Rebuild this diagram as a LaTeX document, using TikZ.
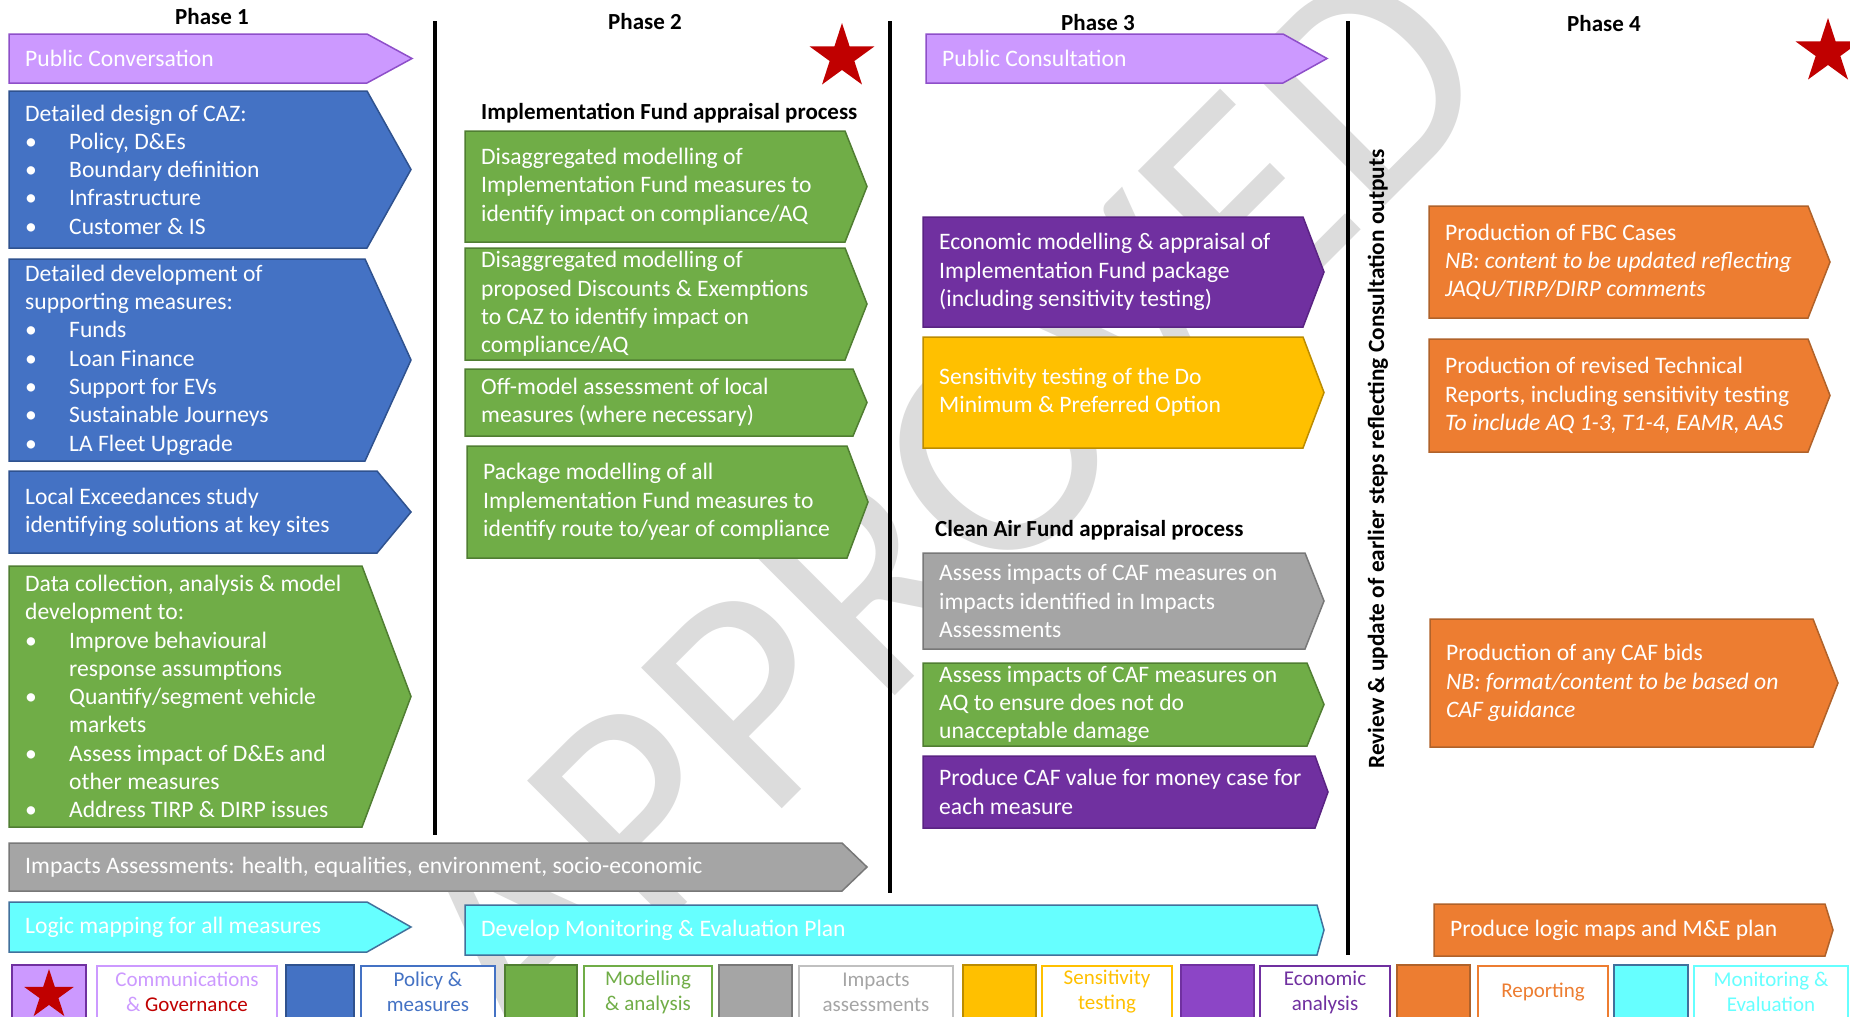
\documentclass[tikz,border=0pt]{standalone}
\usepackage{fontspec}
\setmainfont{Carlito}
\definecolor{lav}{HTML}{CC99FF}
\definecolor{lavd}{HTML}{8E4FC9}
\definecolor{blu}{HTML}{4472C4}
\definecolor{blud}{HTML}{2F528F}
\definecolor{grn}{HTML}{70AD47}
\definecolor{grnd}{HTML}{507E32}
\definecolor{gry}{HTML}{A5A5A5}
\definecolor{gryd}{HTML}{787878}
\definecolor{yel}{HTML}{FFC000}
\definecolor{yeld}{HTML}{BC8C00}
\definecolor{pur}{HTML}{7030A0}
\definecolor{purd}{HTML}{5A2383}
\definecolor{org}{HTML}{ED7D31}
\definecolor{orgd}{HTML}{B0622A}
\definecolor{cya}{HTML}{66FFFF}
\definecolor{cyad}{HTML}{41719C}
\definecolor{stared}{HTML}{C00000}
\definecolor{legpur}{HTML}{8C45C6}
\definecolor{wm}{HTML}{DCDCDC}
\tikzset{
  boxtext/.style={text=white, font=\fontsize{23.6}{28.3}\selectfont, align=left, inner sep=0pt, anchor=west},
  hdr/.style={font=\bfseries\fontsize{23}{27}\selectfont, inner sep=0pt},
  legtext/.style={font=\fontsize{21}{25}\selectfont, align=center, inner sep=0pt},
  sepline/.style={line width=4.5pt},
}
\newcommand\bl{\makebox[44pt][l]{•}}
\newcommand\ind{\makebox[44pt][l]{}}
% #1 name #2 fill #3 draw #4 x1 #5 y1 #6 xbody #7 xtip #8 y2 #9 text
\newcommand\chev[9]{%
  \filldraw[fill=#2, draw=#3, line width=1.5pt] (#4,#5) -- (#6,#5) -- (#7,{(#5+#8)/2}) -- (#6,#8) -- (#4,#8) -- cycle;
  \node[boxtext] (#1) at ({#4+16},{(#5+#8)/2}) {#9};
}
% #1 cx #2 cy #3 R
\newcommand\drawstar[3]{%
  \fill[stared] ({#1},{#2-#3}) \foreach \k in {1,...,9} { -- ({#1+(isodd(\k)?0.382:1)*#3*cos(90+36*\k)},{#2-(isodd(\k)?0.382:1)*#3*sin(90+36*\k)}) } -- cycle;
}
\newcommand\legsq[4]{% fill draw x1 x2
  \filldraw[fill=#1, draw=#2, line width=2pt] (#3,965) rectangle (#4,1030);
}
\newcommand\legtx[6]{% name draw textcolor x1 x2 text
  \filldraw[fill=white, draw=#2, line width=1.5pt] (#4,966) rectangle (#5,1030);
  \node[legtext, text=#3] (#1) at ({(#4+#5)/2},992) {#6};
}
\begin{document}
\begin{tikzpicture}[x=1pt,y=-1pt]
\useasboundingbox (0,0) rectangle (1850,1017);
\clip (0,0) rectangle (1850,1017);
\fill[white] (0,0) rectangle (1850,1017);
% watermark
\node[rotate=45, text=wm, font=\fontsize{310}{310}\selectfont, inner sep=0pt] (wmark) at (945,505) {APPROVED};

% headers
\node[hdr] (ph1) at (212,17) {Phase 1};
\node[hdr] (ph2) at (645,22) {Phase 2};
\node[hdr] (ph3) at (1098,23) {Phase 3};
\node[hdr] (ph4) at (1604,24) {Phase 4};
\node[hdr, anchor=west] (ifap) at (481,113) {Implementation Fund appraisal process};
\node[hdr, anchor=west] (cafap) at (935,530) {Clean Air Fund appraisal process};

% separators
\coordinate (s1t) at (435,21); \coordinate (s1b) at (435,835);
\coordinate (s2t) at (890,21); \coordinate (s2b) at (890,893);
\coordinate (s3t) at (1348,21); \coordinate (s3b) at (1348,955);
\draw[sepline] (s1t) -- (s1b);
\draw[sepline] (s2t) -- (s2b);
\draw[sepline] (s3t) -- (s3b);

% stars
\drawstar{842}{57}{34}
\drawstar{1828}{52}{34}

% Phase 1
\chev{pc1}{lav}{lavd}{9}{34}{367}{412}{83}{Public Conversation}
\chev{caz}{blu}{blud}{9}{91}{367}{411}{248}{Detailed design of CAZ:\\\bl Policy, D\&Es\\\bl Boundary definition\\\bl Infrastructure\\\bl Customer \& IS}
\chev{sup}{blu}{blud}{9}{259}{365}{411}{461}{Detailed development of\\supporting measures:\\\bl Funds\\\bl Loan Finance\\\bl Support for EVs\\\bl Sustainable Journeys\\\bl LA Fleet Upgrade}
\chev{lex}{blu}{blud}{9}{471}{377}{411}{553}{Local Exceedances study\\identifying solutions at key sites}
\chev{data}{grn}{grnd}{9}{566}{362}{411}{827}{Data collection, analysis \& model\\development to:\\\bl Improve behavioural\\\ind response assumptions\\\bl Quantify/segment vehicle\\\ind markets\\\bl Assess impact of D\&Es and\\\ind other measures\\\bl Address TIRP \& DIRP issues}

% Phase 2
\chev{dis1}{grn}{grnd}{465}{131}{845}{867}{242}{Disaggregated modelling of\\Implementation Fund measures to\\identify impact on compliance/AQ}
\chev{dis2}{grn}{grnd}{465}{248}{845}{867}{360}{Disaggregated modelling of\\proposed Discounts \& Exemptions\\to CAZ to identify impact on\\compliance/AQ}
\chev{off}{grn}{grnd}{465}{369}{853}{867}{436}{Off-model assessment of local\\measures (where necessary)}
\chev{pkg}{grn}{grnd}{467}{446}{847}{868}{558}{Package modelling of all\\Implementation Fund measures to\\identify route to/year of compliance}
\chev{ia}{gry}{gryd}{9}{843}{842}{867}{891}{Impacts Assessments: health, equalities, environment, socio-economic}

% Phase 3
\chev{pc3}{lav}{lavd}{926}{34}{1283}{1327}{83}{Public Consultation}
\chev{eco}{pur}{purd}{923}{217}{1303}{1324}{327}{Economic modelling \& appraisal of\\Implementation Fund package\\(including sensitivity testing)}
\chev{sens}{yel}{yeld}{923}{337}{1303}{1324}{448}{Sensitivity testing of the Do\\Minimum \& Preferred Option}
\chev{cafimp}{gry}{gryd}{923}{553}{1305}{1324}{649}{Assess impacts of CAF measures on\\impacts identified in Impacts\\Assessments}
\chev{cafaq}{grn}{grnd}{923}{663}{1307}{1324}{746}{Assess impacts of CAF measures on\\AQ to ensure does not do\\unacceptable damage}
\chev{vfm}{pur}{purd}{923}{756}{1315}{1328}{828}{Produce CAF value for money case for\\each measure}

% bottom rows
\chev{logic}{cya}{cyad}{9}{902}{367}{411}{952}{Logic mapping for all measures}
\chev{mande}{cya}{cyad}{465}{905}{1317}{1324}{955}{Develop Monitoring \& Evaluation Plan}

% Phase 4
\node[rotate=90, font=\bfseries\fontsize{23.3}{27}\selectfont, inner sep=0pt] (review) at (1378,459) {Review \& update of earlier steps reflecting Consultation outputs};
\chev{fbc}{org}{orgd}{1429}{206}{1808}{1830}{318}{Production of FBC Cases\\\textit{NB: content to be updated reflecting}\\\textit{JAQU/TIRP/DIRP comments}}
\chev{tech}{org}{orgd}{1429}{339}{1808}{1830}{452}{Production of revised Technical\\Reports, including sensitivity testing\\\textit{To include AQ 1-3, T1-4, EAMR, AAS}}
\chev{bids}{org}{orgd}{1430}{619}{1813}{1838}{747}{Production of any CAF bids\\\textit{NB: format/content to be based on}\\\textit{CAF guidance}}
\chev{lmaps}{org}{orgd}{1434}{904}{1825}{1833}{956}{Produce logic maps and M\&E plan}

% legend
\legsq{lav}{pur}{12}{86}
\drawstar{49}{995}{26}
\legtx{lg1}{lav}{lav}{97}{277}{Communications\\\& \textcolor{stared}{Governance}}
\legsq{blu}{blud}{286}{354}
\legtx{lg2}{blu}{blu}{361}{495}{Policy \&\\measures}
\legsq{grn}{grnd}{505}{577}
\legtx{lg3}{grn}{grn}{584}{712}{Modelling\\\& analysis}
\legsq{gry}{gryd}{719}{792}
\legtx{lg4}{gry!70}{gry}{799}{953}{Impacts\\assessments}
\legsq{yel}{yeld}{963}{1036}
\legtx{lg5}{yel}{yel}{1042}{1172}{Sensitivity\\testing}
\legsq{legpur}{pur}{1181}{1254}
\legtx{lg6}{pur}{pur}{1260}{1390}{Economic\\analysis}
\legsq{org}{orgd}{1397}{1470}
\legtx{lg7}{org}{org}{1478}{1608}{Reporting}
\legsq{cya}{cyad}{1614}{1688}
\legtx{lg8}{cya}{cya}{1694}{1848}{Monitoring \&\\Evaluation}
\end{tikzpicture}
\end{document}
